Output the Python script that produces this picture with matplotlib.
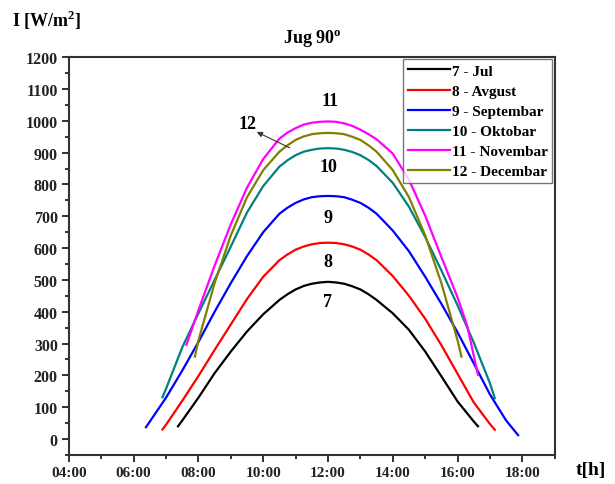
import matplotlib
matplotlib.use("Agg")
import matplotlib.pyplot as plt
from matplotlib.ticker import MultipleLocator

plt.rcParams['font.family'] = ['Liberation Serif', 'DejaVu Serif']
plt.rcParams['font.weight'] = 'bold'
plt.rcParams['mathtext.fontset'] = 'custom'
plt.rcParams['mathtext.rm'] = 'Liberation Serif'
plt.rcParams['mathtext.bf'] = 'Liberation Serif:bold'

# time of day in hours, irradiance in W/m2
t_jul = [7.37, 7.5, 8.0, 8.5, 9.0, 9.5, 10.0, 10.5, 10.75, 11.0, 11.25, 11.5, 11.75, 12.0,
         12.25, 12.5, 12.75, 13.0, 13.25, 13.5, 14.0, 14.5, 15.0, 15.5, 16.0, 16.5, 16.63]
i_jul = [40, 58, 130, 207, 275, 338, 392, 437, 455, 470, 481, 488, 492, 494,
         492, 488, 480, 470, 455, 437, 395, 343, 275, 197, 118, 55, 40]

t_avg = [6.89, 7.0, 7.5, 8.0, 8.5, 9.0, 9.5, 10.0, 10.5, 10.75, 11.0, 11.25, 11.5, 11.75, 12.0,
         12.25, 12.5, 12.75, 13.0, 13.25, 13.5, 14.0, 14.5, 15.0, 15.5, 16.0, 16.5, 17.0, 17.15]
i_avg = [30, 45, 120, 198, 280, 360, 440, 510, 562, 580, 595, 605, 612, 616, 617,
         616, 612, 605, 595, 580, 562, 512, 450, 378, 295, 205, 115, 47, 29]

t_sep = [6.38, 6.5, 7.0, 7.5, 8.0, 8.5, 9.0, 9.5, 10.0, 10.5, 10.75, 11.0, 11.25, 11.5, 11.75, 12.0,
         12.25, 12.5, 12.75, 13.0, 13.25, 13.5, 14.0, 14.5, 15.0, 15.5, 16.0, 16.5, 17.0, 17.5, 17.87]
i_sep = [37, 55, 130, 215, 305, 400, 490, 575, 650, 708, 727, 742, 753, 760, 763, 764,
         763, 760, 752, 742, 727, 708, 655, 590, 510, 425, 335, 238, 140, 58, 12]

t_okt = [6.89, 7.0, 7.5, 8.0, 8.5, 9.0, 9.5, 10.0, 10.5, 10.75, 11.0, 11.25, 11.5, 11.75, 12.0,
         12.25, 12.5, 12.75, 13.0, 13.25, 13.5, 14.0, 14.5, 15.0, 15.5, 16.0, 16.5, 17.0, 17.15]
i_okt = [131, 158, 288, 395, 500, 605, 712, 795, 856, 876, 892, 903, 909, 913, 914,
         913, 909, 902, 892, 877, 858, 805, 730, 635, 530, 420, 303, 175, 128]

t_nov = [7.63, 8.0, 8.5, 9.0, 9.5, 10.0, 10.5, 10.75, 11.0, 11.25, 11.5, 11.75, 12.0,
         12.25, 12.5, 12.75, 13.0, 13.25, 13.5, 14.0, 14.5, 15.0, 15.5, 16.0, 16.3, 16.63]
i_nov = [296, 405, 545, 675, 790, 880, 944, 963, 977, 988, 994, 997, 998,
         997, 992, 984, 972, 958, 942, 897, 815, 702, 572, 445, 355, 202]

t_dec = [7.89, 8.0, 8.5, 9.0, 9.5, 10.0, 10.5, 10.75, 11.0, 11.25, 11.5, 11.75, 12.0,
         12.25, 12.5, 12.75, 13.0, 13.25, 13.5, 14.0, 14.5, 15.0, 15.5, 16.0, 16.12]
i_dec = [259, 310, 490, 640, 760, 845, 903, 923, 940, 951, 958, 961, 962,
         961, 958, 950, 940, 923, 903, 845, 760, 640, 490, 310, 259]

series = [
    (t_jul, i_jul, "7 - Jul", "black"),
    (t_avg, i_avg, "8 - Avgust", "#ff0000"),
    (t_sep, i_sep, "9 - Septembar", "#0000ff"),
    (t_okt, i_okt, "10 - Oktobar", "#008080"),
    (t_nov, i_nov, "11 - Novembar", "#ff00ff"),
    (t_dec, i_dec, "12 - Decembar", "#808000"),
]

x_ticks = [4, 6, 8, 10, 12, 14, 16, 18]
x_labels = ["04:00", "06:00", "08:00", "10:00", "12:00", "14:00", "16:00", "18:00"]
y_ticks = list(range(0, 1201, 100))

# month numbers written next to the peaks
peak_labels = ["7", "8", "9", "10", "11"]
peak_label_x = [12.0, 12.0, 12.0, 12.0, 12.05]
peak_label_y = [433, 558, 696, 856, 1063]

fig = plt.figure(figsize=(6.15, 4.85), dpi=100)
ax = fig.add_axes([0.112, 0.060, 0.790, 0.820])

for t, v, name, col in series:
    ax.plot(t, v, color=col, lw=1.6, label=name)

for lab, lx, ly in zip(peak_labels, peak_label_x, peak_label_y):
    ax.text(lx, ly, lab, ha="center", va="center", fontsize=13, fontweight="bold")

ax.text(9.52, 991, "12", fontsize=13, fontweight="bold", ha="center", va="center")
# arrow from the December curve to the "12" label
ax.annotate("", xy=(9.8, 965), xytext=(10.82, 915),
            arrowprops=dict(arrowstyle="-|>", color="#333333", lw=0.8,
                            mutation_scale=8, shrinkA=0, shrinkB=0))

ax.set_xlim(4, 19)
ax.set_ylim(-50, 1200)
ax.set_xticks(x_ticks)
ax.set_xticklabels(x_labels)
ax.set_yticks(y_ticks)
ax.xaxis.set_minor_locator(MultipleLocator(1))
ax.yaxis.set_minor_locator(MultipleLocator(50))
ax.tick_params(axis="both", which="major", direction="out", length=5, width=1.3,
               labelsize=11.5, colors="#222222")
ax.tick_params(axis="both", which="minor", direction="out", length=3, width=1.3,
               colors="#222222")
ax.tick_params(axis="x", pad=3, labelsize=11)
ax.tick_params(axis="y", pad=3)
for sp in ax.spines.values():
    sp.set_linewidth(1.5)
    sp.set_color("#333333")

leg = ax.legend(loc="upper right", fontsize=11, frameon=True, fancybox=False,
                handlelength=2.8, handletextpad=0.1, labelspacing=0.42,
                borderpad=0.3, borderaxespad=0.15)
leg.get_frame().set_edgecolor("#555555")
leg.get_frame().set_linewidth(1.0)

ax.set_title(r"Jug 90$^{\mathbf{o}}$", fontsize=13, fontweight="bold", pad=10)
fig.text(0.02, 0.958, r"I [W/m$^{\mathbf{2}}$]", fontsize=13, fontweight="bold",
         ha="left", va="center")
fig.text(0.985, 0.03, "t[h]", fontsize=14, fontweight="bold", ha="right", va="center")

fig.savefig("out.png", dpi=100, facecolor="white")
